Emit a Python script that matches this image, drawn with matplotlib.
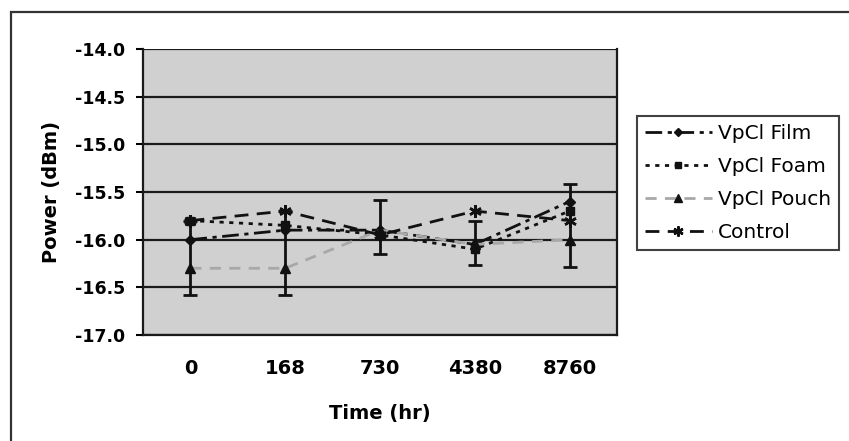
import matplotlib
matplotlib.use("Agg")
import matplotlib.pyplot as plt
from matplotlib.patches import Rectangle
import numpy as np

plt.rcParams['font.family'] = ['DejaVu Sans']
plt.rcParams['axes.unicode_minus'] = False

categories = ["0", "168", "730", "4380", "8760"]
film = [-16.0, -15.9, -15.9, -16.05, -15.6]
foam = [-15.8, -15.85, -15.95, -16.1, -15.7]
pouch = [-16.3, -16.3, -15.9, -16.05, -16.0]
control = [-15.8, -15.7, -15.95, -15.7, -15.8]
err_low = [-16.58, -16.58, -16.15, -16.27, -16.29]
err_high = [-15.8, -15.7, -15.58, -15.8, -15.42]
yticks = [-17.0, -16.5, -16.0, -15.5, -15.0, -14.5, -14.0]

W, H = 849, 441
fig = plt.figure(figsize=(W / 100, H / 100), dpi=100)

# outer frame (extends beyond right/bottom edges)
fig.patches.append(Rectangle((11 / W, -0.1), 1.2, (H - 12) / H + 0.1,
                             transform=fig.transFigure, fill=False,
                             edgecolor='#333333', linewidth=1.6))

ax = fig.add_axes([143 / W, 1 - 335 / H, (617 - 143) / W, (335 - 49) / H])
ax.set_facecolor('#d0d0d0')
x = np.arange(len(categories))

ax.set_ylim(-17.0, -14.0)
ax.set_xlim(-0.5, len(categories) - 0.5)
ax.set_yticks(yticks)
ax.set_yticklabels([f"{v:.1f}" for v in yticks])
ax.set_xticks(x)
ax.set_xticklabels(categories)
ax.grid(axis='y', color='#1a1a1a', linewidth=1.6)
ax.set_axisbelow(True)
for s in ax.spines.values():
    s.set_color('#1a1a1a')
    s.set_linewidth(1.6)
ax.spines['top'].set_visible(False)

ax.tick_params(axis='y', direction='out', length=5, width=1.5, pad=8,
               labelsize=12.5)
ax.tick_params(axis='x', length=0, pad=17, labelsize=14)
for lbl in ax.get_xticklabels() + ax.get_yticklabels():
    lbl.set_fontweight('bold')

# error bars
yerr = [np.array(pouch) - np.array(err_low), np.array(err_high) - np.array(pouch)]
ax.errorbar(x, pouch, yerr=yerr, fmt='none', ecolor='#111111',
            elinewidth=2, capsize=5, capthick=2, zorder=3)

ax.plot(x, film, color='#111111', linestyle=(0, (6, 2, 1.5, 2)), linewidth=2,
        marker='D', markersize=5.5, label='VpCl Film', zorder=4)
ax.plot(x, foam, color='#111111', linestyle=(0, (1.5, 2)), linewidth=2,
        marker='s', markersize=6, label='VpCl Foam', zorder=4)
ax.plot(x, pouch, color='#a8a8a8', linestyle=(0, (4, 3)), linewidth=2,
        marker='^', markersize=7, markerfacecolor='#111111',
        markeredgecolor='#111111', label='VpCl Pouch', zorder=4)
ax.plot(x, control, color='#111111', linestyle=(0, (5, 3)), linewidth=2,
        marker=(6, 2, 0), markersize=9, markeredgewidth=1.8,
        label='Control', zorder=4)

ax.set_xlabel('Time (hr)', fontsize=14, fontweight='bold', labelpad=19)
ax.set_ylabel('Power (dBm)', fontsize=14, fontweight='bold', labelpad=10)

handles, labels = ax.get_legend_handles_labels()
leg = fig.legend(handles, labels, loc='upper left',
                 bbox_to_anchor=(637 / W, 1 - 116 / H),
                 frameon=True, fancybox=False, fontsize=14.5,
                 handlelength=3.3, handletextpad=0.3, borderpad=0.4,
                 labelspacing=0.7, borderaxespad=0, markerscale=0.8)
leg.get_frame().set_edgecolor('#111111')
leg.get_frame().set_linewidth(1.5)

fig.savefig('out.png', dpi=100)
